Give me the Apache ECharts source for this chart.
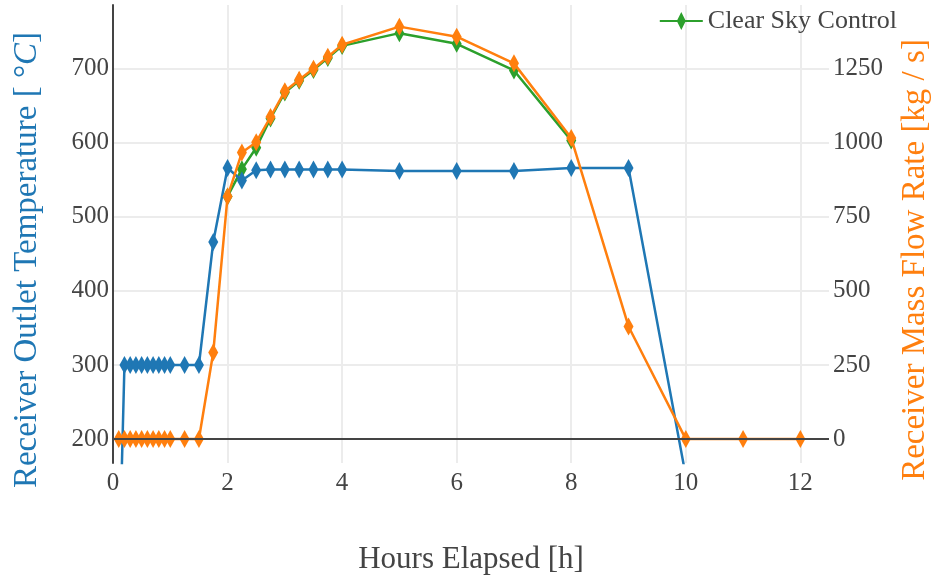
<!DOCTYPE html>
<html>
<head>
<meta charset="utf-8">
<script src="https://cdn.jsdelivr.net/npm/echarts@6/dist/echarts.min.js"></script>
<style>
html,body{margin:0;padding:0;background:#fff;}
#chart{width:940px;height:580px;}
</style>
</head>
<body>
<div id="chart"></div>
<script>
// ---- data ----
var hours = [0.1,0.2,0.3,0.4,0.5,0.6,0.7,0.8,0.9,1.0,1.25,1.5,1.75,2,2.25,2.5,2.75,3,3.25,3.5,3.75,4,5,6,7,8,9,10,11,12];
var outletTemp = [0,300,300,300,300,300,300,300,300,300,300,300,466,566,549,563,564,564,564,564,564,564,562,562,562,566,566,150];
var massFlow = [0,0,0,0,0,0,0,0,0,0,0,0,292,819,967,1002,1087,1174,1213,1250,1290,1331,1392,1358,1268,1016,380,0,0,0];
var clearHours = [2,2.25,2.5,2.75,3,3.25,3.5,3.75,4,5,6,7,8];
var clearFlow = [819,911,983,1082,1170,1209,1246,1286,1327,1370,1334,1244,1008];
var xTicks = [0,2,4,6,8,10,12];
var tempTicks = [200,300,400,500,600,700];
var flowTicks = [0,250,500,750,1000,1250];

var FONT = "'Liberation Serif','Times New Roman',serif";
var BLUE = '#1f77b4', ORANGE = '#ff7f0e', GREEN = '#2ca02c';

function pairs(xs, ys){ var out=[]; for(var i=0;i<ys.length;i++) out.push([xs[i], ys[i]]); return out; }
function plain(v){ return String(v); }

var tMin = 167.7, tMax = 786;
var chart = echarts.init(document.getElementById('chart'), null, {renderer:'canvas'});
chart.setOption({
  animation: false,
  backgroundColor: '#fff',
  grid: {left:113, right:102, top:5, bottom:115, containLabel:false},
  legend: {
    data: ['Clear Sky Control'],
    right: 43, top: 8, padding: 0,
    itemWidth: 43, itemHeight: 18,
    icon: 'path://M0,8L17.5,8L21.5,0L25.5,8L43,8L43,10L25.5,10L21.5,18L17.5,10L0,10Z',
    textStyle: {fontFamily: FONT, fontSize: 26, color: '#444'}
  },
  xAxis: {
    type: 'value', min: 0, max: 12.5,
    name: 'Hours Elapsed [h]', nameLocation: 'middle', nameGap: 81,
    nameTextStyle: {fontFamily: FONT, fontSize: 31, color: '#444'},
    axisLine: {show: false},
    axisTick: {show: false, customValues: xTicks},
    axisLabel: {customValues: xTicks, formatter: plain, fontFamily: FONT, fontSize: 25, color: '#444', margin: 8},
    splitLine: {show: true, lineStyle: {color: '#ececec', width: 2}}
  },
  yAxis: [{
    type: 'value', min: tMin, max: tMax, position: 'left',
    name: 'Receiver Outlet Temperature [ °{i|C}]', nameLocation: 'middle', nameGap: 69,
    nameTextStyle: {fontFamily: FONT, fontSize: 33, color: BLUE, padding: [0,52,0,0],
      rich: {i: {fontFamily: FONT, fontSize: 33, color: BLUE, fontStyle: 'italic'}}},
    axisLine: {show: true, onZero: false, lineStyle: {color: '#444', width: 2}},
    axisTick: {show: false, customValues: tempTicks},
    axisLabel: {customValues: tempTicks, formatter: plain, fontFamily: FONT, fontSize: 25, color: '#444', margin: 4},
    splitLine: {show: true, lineStyle: {color: '#ececec', width: 2}}
  }, {
    type: 'value', min: (tMin-200)*2.5, max: (tMax-200)*2.5, position: 'right',
    name: 'Receiver Mass Flow Rate [kg / s]', nameLocation: 'middle', nameGap: 70,
    nameTextStyle: {fontFamily: FONT, fontSize: 33, color: ORANGE, padding: [0,52,0,0]},
    axisLine: {show: false},
    axisTick: {show: false, customValues: flowTicks},
    axisLabel: {customValues: flowTicks, formatter: plain, fontFamily: FONT, fontSize: 25, color: '#444', margin: 4},
    splitLine: {show: false}
  }],
  series: [{
    name: 'Clear Sky Control', type: 'line', yAxisIndex: 1,
    data: pairs(clearHours, clearFlow),
    symbol: 'diamond', symbolSize: [10, 18], showAllSymbol: true,
    lineStyle: {color: GREEN, width: 2.5}, itemStyle: {color: GREEN},
    z: 2
  }, {
    name: 'Receiver Outlet Temperature', type: 'line', yAxisIndex: 0,
    data: pairs(hours, outletTemp),
    symbol: 'diamond', symbolSize: [10, 18], showAllSymbol: true,
    lineStyle: {color: BLUE, width: 2.5}, itemStyle: {color: BLUE},
    z: 3
  }, {
    name: 'Receiver Mass Flow Rate', type: 'line', yAxisIndex: 1,
    data: pairs(hours, massFlow),
    symbol: 'diamond', symbolSize: [10, 18], showAllSymbol: true,
    lineStyle: {color: ORANGE, width: 2.5}, itemStyle: {color: ORANGE},
    markLine: {silent: true, symbol: ['none','none'], label: {show: false},
      lineStyle: {color: '#444', width: 2, type: 'solid'}, data: [{yAxis: 0}]},
    z: 4
  }]
});
</script>
</body>
</html>
